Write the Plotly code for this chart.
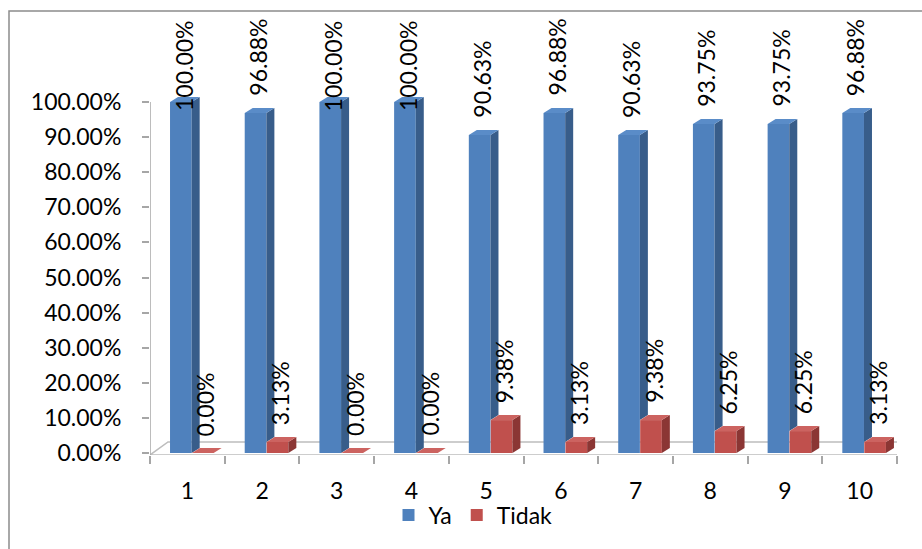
import plotly.graph_objects as go

# ---- data ----
categories = ["1", "2", "3", "4", "5", "6", "7", "8", "9", "10"]
ya = [1.0, 0.9688, 1.0, 1.0, 0.9063, 0.9688, 0.9063, 0.9375, 0.9375, 0.9688]
tidak = [0.0, 0.0313, 0.0, 0.0, 0.0938, 0.0313, 0.0938, 0.0625, 0.0625, 0.0313]
series_names = ["Ya", "Tidak"]
y_ticks = [i / 10 for i in range(11)]
y_tick_text = ["%.2f%%" % (v * 100) for v in y_ticks]

# ---- styling / geometry ----
FONT = "Lato, 'Open Sans', sans-serif"
FS = 23
BLUE, BLUE_SIDE, BLUE_TOP = "#4F81BD", "#385D8A", "#5A8CC8"
RED, RED_SIDE, RED_TOP = "#C0504D", "#8B3634", "#CC6360"
GRID = "#A6A6A6"
FLOOR = "#BDBDBD"

W, H = 922, 549
ML, MR, MT, MB = 150, 25, 14, 94
PW, PH = W - ML - MR, H - MT - MB
Y0, Y1 = -0.0057, 1.2507
PX_Y = PH / (Y1 - Y0)          # pixels per y unit
PX_X = PW / 10.0               # pixels per category

BAR_W = 0.29
OFF_YA, OFF_TI = -0.232, 0.062
DX, DY = 8 / PX_X, 5 / PX_Y    # 3D depth

xs = list(range(1, len(categories) + 1))

fig = go.Figure()

# front faces
fig.add_trace(go.Bar(x=xs, y=ya, name=series_names[0], width=BAR_W, offset=OFF_YA,
                     marker=dict(color=BLUE, line=dict(width=0)), hoverinfo="y"))
fig.add_trace(go.Bar(x=xs, y=tidak, name=series_names[1], width=BAR_W, offset=OFF_TI,
                     marker=dict(color=RED, line=dict(width=0)), hoverinfo="y"))


def faces(values, offset, clip=None):
    sx, sy, tx, ty = [], [], [], []
    for i, (x, v) in enumerate(zip(xs, values)):
        xl = x + offset
        xr = xl + BAR_W
        b = clip[i] if clip is not None else 0.0
        # side face
        sx += [xr, xr + DX, xr + DX, xr, xr, None]
        sy += [b, b + DY, v + DY, v, b, None]
        # top face
        tx += [xl, xr, xr + DX, xl + DX, xl, None]
        ty += [v, v, v + DY, v + DY, v, None]
    return sx, sy, tx, ty


for vals, off, side_c, top_c, clip in [
    (ya, OFF_YA, BLUE_SIDE, BLUE_TOP, tidak),
    (tidak, OFF_TI, RED_SIDE, RED_TOP, None),
]:
    sx, sy, tx, ty = faces(vals, off, clip)
    fig.add_trace(go.Scatter(x=sx, y=sy, mode="lines", fill="toself", fillcolor=side_c,
                             line=dict(width=0, color=side_c), showlegend=False, hoverinfo="skip"))
    fig.add_trace(go.Scatter(x=tx, y=ty, mode="lines", fill="toself", fillcolor=top_c,
                             line=dict(width=0, color=top_c), showlegend=False, hoverinfo="skip"))

# floor (3D base)
fb = 13 / PX_Y
floor_path = "M %f,%f L %f,%f L %f,%f L %f,%f Z" % (
    0.5, Y0, 10.5, Y0, 10.5 + 16 / PX_X, Y0 + fb, 0.5 + 18 / PX_X, Y0 + fb)
shapes = [
    dict(type="path", path=floor_path, xref="x", yref="y", layer="below",
         line=dict(color=FLOOR, width=1.5), fillcolor="white"),
    dict(type="line", xref="x", yref="y", x0=0.5, x1=0.5, y0=Y0, y1=1.0,
         line=dict(color=GRID, width=1.5), layer="below"),
    # chart area border
    dict(type="rect", xref="paper", yref="paper",
         x0=(9 - ML) / PW, x1=(W + 20 - ML) / PW,
         y0=(MT + PH - (H + 20)) / PH, y1=(MT + PH - 11) / PH,
         line=dict(color="#8C8C8C", width=1.5), fillcolor="rgba(0,0,0,0)", layer="below"),
]

# data labels (rotated), clamped inside chart area like Excel
annotations = []
TOP_LIMIT_PX = 18
GAP = 15
for vals, off in [(ya, OFF_YA), (tidak, OFF_TI)]:
    for x, v in zip(xs, vals):
        txt = "%.2f%%" % (v * 100)
        cx = x + off + BAR_W / 2 + DX / 3
        bottom_px = MT + (Y1 - v) * PX_Y - GAP
        est_len = 13.0 * len(txt)
        if bottom_px - est_len < TOP_LIMIT_PX:
            annotations.append(dict(x=cx, xref="x", y=(MT + PH - TOP_LIMIT_PX) / PH, yref="paper",
                                    text=txt, textangle=-90, showarrow=False,
                                    xanchor="center", yanchor="top",
                                    font=dict(family=FONT, size=FS, color="black")))
        else:
            annotations.append(dict(x=cx, xref="x", y=v, yref="y", yshift=GAP,
                                    text=txt, textangle=-90, showarrow=False,
                                    xanchor="center", yanchor="bottom",
                                    font=dict(family=FONT, size=FS, color="black")))

fig.update_layout(
    width=W, height=H,
    margin=dict(l=ML, r=MR, t=MT, b=MB),
    paper_bgcolor="white", plot_bgcolor="white",
    barmode="overlay",
    font=dict(family=FONT, size=FS, color="black"),
    showlegend=True,
    legend=dict(orientation="h", x=(473 - ML) / PW, xanchor="center",
                y=(MT + PH - 515) / PH, yanchor="middle",
                font=dict(family=FONT, size=FS), itemwidth=30,
                bgcolor="rgba(0,0,0,0)", traceorder="normal"),
    shapes=shapes,
    annotations=annotations,
    xaxis=dict(range=[0.5, 10.5], tickmode="array", tickvals=xs, ticktext=categories,
               ticks="", showgrid=False, zeroline=False, showline=False,
               ticklabelstandoff=20,
               minor=dict(tickmode="array", tickvals=[x + 0.5 for x in [0] + xs],
                          ticks="outside", ticklen=8, tickcolor=GRID, tickwidth=1.5,
                          showgrid=False),
               fixedrange=True),
    yaxis=dict(range=[Y0, Y1], tickmode="array", tickvals=y_ticks, ticktext=y_tick_text,
               ticks="outside", ticklen=7, tickcolor=GRID, tickwidth=1.5,
               showgrid=False, zeroline=False, showline=False,
               ticklabelstandoff=16, fixedrange=True),
)

fig.write_html("out.html")
